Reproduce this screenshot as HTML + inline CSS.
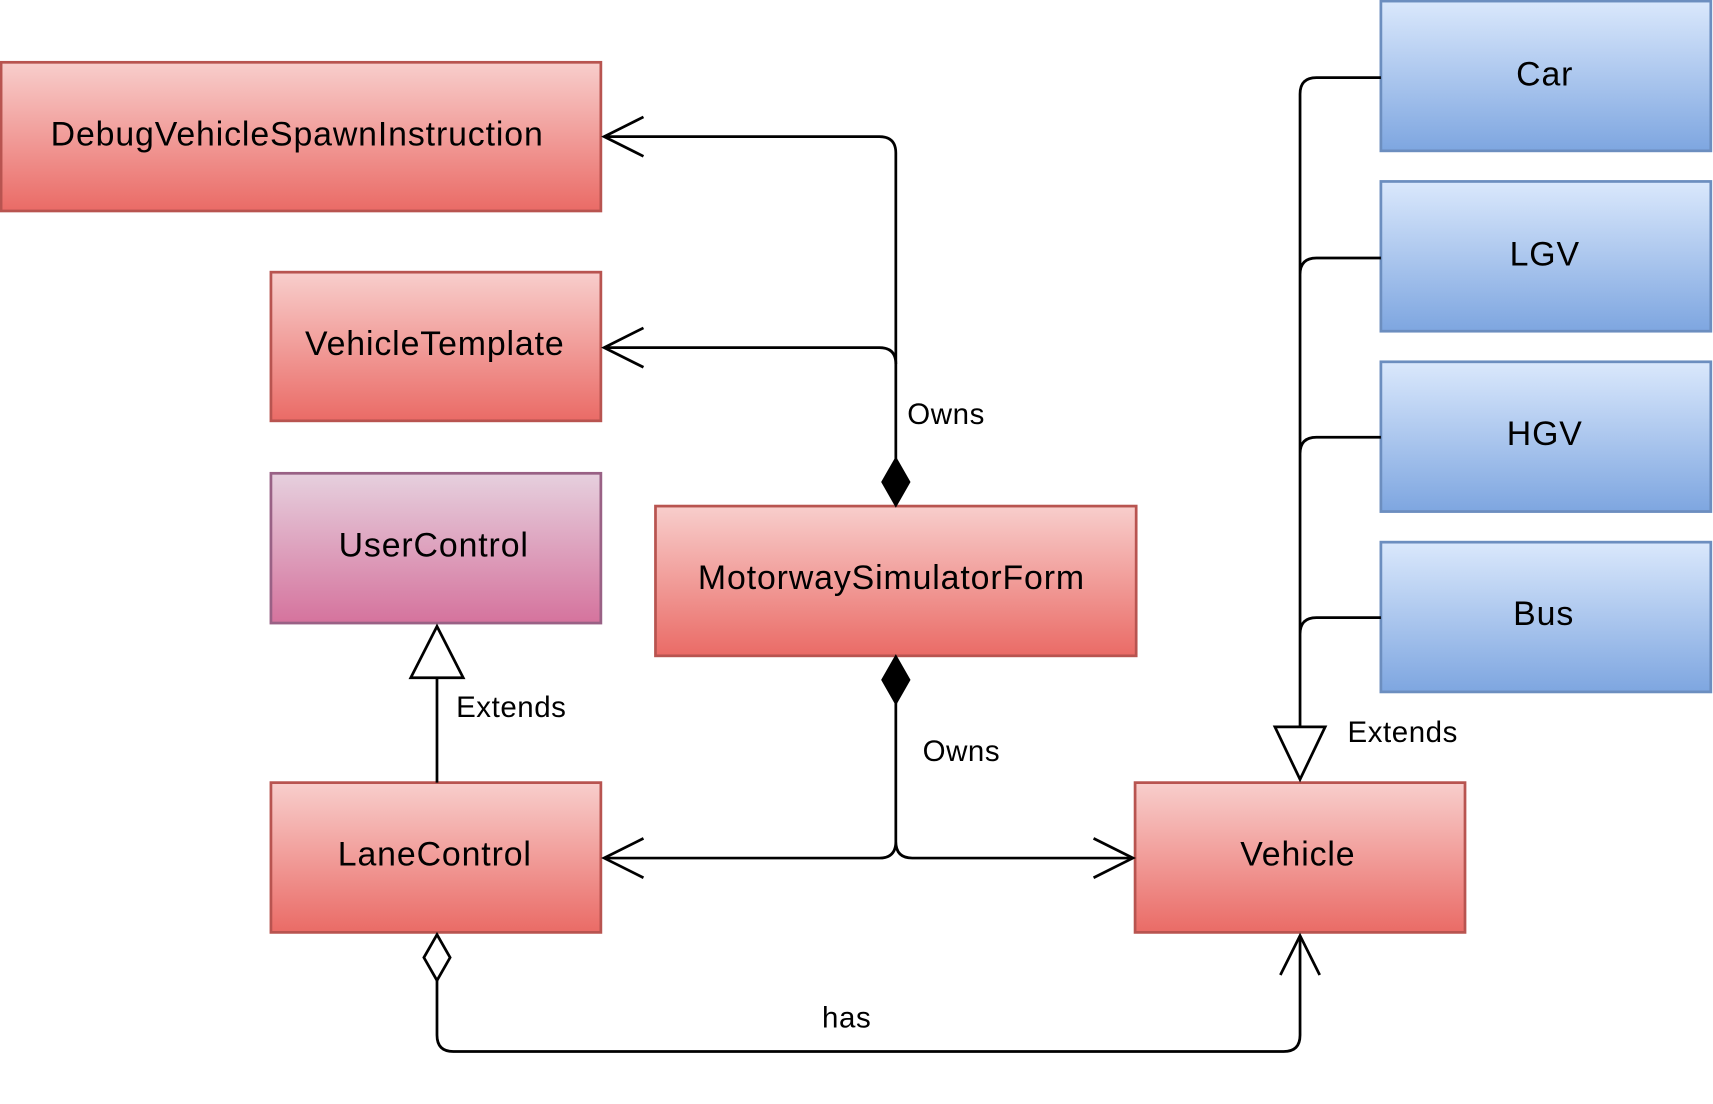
<!DOCTYPE html>
<html><head><meta charset="utf-8"><style>html,body{margin:0;padding:0;background:#fff}svg{display:block}</style></head>
<body>
<svg width="1713" height="1104" viewBox="0 0 1568 1010" preserveAspectRatio="none" xmlns="http://www.w3.org/2000/svg" font-family="Liberation Sans, sans-serif">
<defs>
<linearGradient id="r" x1="0" y1="0" x2="0" y2="1"><stop offset="0" stop-color="#f8cecc"/><stop offset="1" stop-color="#ea6b66"/></linearGradient>
<linearGradient id="b" x1="0" y1="0" x2="0" y2="1"><stop offset="0" stop-color="#dae8fc"/><stop offset="1" stop-color="#7ea6e0"/></linearGradient>
<linearGradient id="p" x1="0" y1="0" x2="0" y2="1"><stop offset="0" stop-color="#e6d0de"/><stop offset="1" stop-color="#d5739d"/></linearGradient>
</defs>
<g stroke-width="2.5">
<rect x="1" y="57" width="549" height="136" fill="url(#r)" stroke="#b85450"/>
<rect x="248" y="249" width="302" height="136" fill="url(#r)" stroke="#b85450"/>
<rect x="248" y="433" width="302" height="137" fill="url(#p)" stroke="#996185"/>
<rect x="600" y="463" width="440" height="137" fill="url(#r)" stroke="#b85450"/>
<rect x="248" y="716" width="302" height="137" fill="url(#r)" stroke="#b85450"/>
<rect x="1039" y="716" width="302" height="137" fill="url(#r)" stroke="#b85450"/>
<rect x="1264" y="1" width="302" height="137" fill="url(#b)" stroke="#6c8ebf"/>
<rect x="1264" y="166" width="302" height="137" fill="url(#b)" stroke="#6c8ebf"/>
<rect x="1264" y="331" width="302" height="137" fill="url(#b)" stroke="#6c8ebf"/>
<rect x="1264" y="496" width="302" height="137" fill="url(#b)" stroke="#6c8ebf"/>
</g>
<g fill="none" stroke="#000" stroke-width="2.5">
<path d="M820 420 V140 Q820 125 805 125 H553"/>
<path d="M820 333 Q820 318 805 318 H553"/>
<path d="M589 107 L553 125 L589 143 M589 300 L553 318 L589 336"/>
<path d="M820 642 V770 Q820 785 805 785 H553 M820 770 Q820 785 835 785 H1037"/>
<path d="M589 767 L553 785 L589 803 M1001 767 L1037 785 L1001 803"/>
<path d="M400 716 V620"/>
<path d="M1264 71 H1205 Q1190 71 1190 86 V665 M1264 236 H1205 Q1190 236 1190 251 M1264 400 H1205 Q1190 400 1190 415 M1264 565 H1205 Q1190 565 1190 580"/>
<path d="M400 897 V947 Q400 962 415 962 H1175 Q1190 962 1190 947 V856"/>
<path d="M1172 892 L1190 856 L1208 892"/>
</g>
<g stroke="#000" stroke-width="2.5">
<path d="M820 420 L832 441 L820 462 L808 441Z" fill="#000"/>
<path d="M820 601 L832 622 L820 643 L808 622Z" fill="#000"/>
<path d="M400 855 L412 876 L400 897 L388 876Z" fill="#fff"/>
<path d="M400 573 L424 620 L376 620Z" fill="#fff"/>
<path d="M1190 713 L1167 665 L1213 665Z" fill="#fff"/>
</g>
<g font-size="31" text-anchor="middle" fill="#000" letter-spacing="0.8">
<text x="272" y="133">DebugVehicleSpawnInstruction</text>
<text x="398" y="325">VehicleTemplate</text>
<text x="397" y="509">UserControl</text>
<text x="816" y="539">MotorwaySimulatorForm</text>
<text x="398" y="792">LaneControl</text>
<text x="1188" y="792">Vehicle</text>
<text x="1414" y="78">Car</text>
<text x="1414" y="243">LGV</text>
<text x="1414" y="407">HGV</text>
<text x="1413" y="572">Bus</text>
</g>
<g font-size="27" text-anchor="middle" fill="#000" letter-spacing="0.5">
<text x="866" y="388">Owns</text>
<text x="880" y="696">Owns</text>
<text x="468" y="656">Extends</text>
<text x="1284" y="679">Extends</text>
<text x="775" y="940">has</text>
</g>
</svg>
</body></html>
